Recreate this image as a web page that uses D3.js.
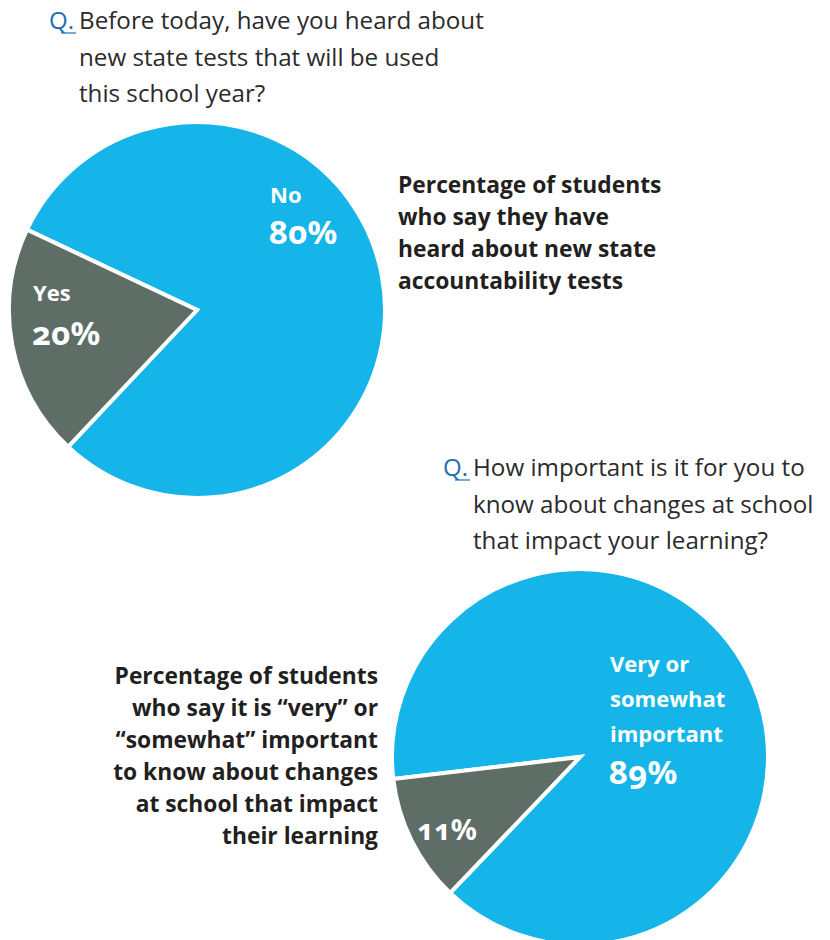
<!DOCTYPE html>
<html>
<head>
<meta charset="utf-8">
<script src="https://cdn.jsdelivr.net/npm/d3@7"></script>
<style>
  html, body { margin: 0; padding: 0; background: #fff; }
  svg { display: block; }
  .q { font-family: "Open Sans", sans-serif; font-size: 24.2px; fill: #2b2b2b; }
  .qmark { font-family: "Open Sans", sans-serif; font-size: 24px; fill: #1f6fb2; }
  .note { font-family: "Open Sans", sans-serif; font-weight: 700; font-size: 22.8px; fill: #231f20; }
  .slice-label { fill: #fff; font-weight: 700; }
  .slice-name { font-family: "Open Sans", sans-serif; font-size: 22px; }
  .slice-pct { font-family: "Noto Sans", sans-serif; font-size: 33px; font-variant-numeric: oldstyle-nums; }
</style>
</head>
<body>
<script>
// Survey answers for the two questions
const q1Categories = ["No", "Yes"];
const q1Values = [80, 20];
const q1Question = ["Before today, have you heard about", "new state tests that will be used", "this school year?"];
const q1Note = ["Percentage of students", "who say they have", "heard about new state", "accountability tests"];

const q2Categories = ["Very or somewhat important", "Not important"];
const q2Values = [89, 11];
const q2Question = ["How important is it for you to", "know about changes at school", "that impact your learning?"];
const q2Note = ["Percentage of students", "who say it is \u201cvery\u201d or", "\u201csomewhat\u201d important", "to know about changes", "at school that impact", "their learning"];

const colors = ["#15b5e9", "#5e6d66"];

const W = 830, H = 940;
const svg = d3.select("body").append("svg").attr("width", W).attr("height", H);

const deg = Math.PI / 180;

function drawPie(cx, cy, r, values, startDeg) {
  const pie = d3.pie().sort(null)
    .startAngle(startDeg * deg)
    .endAngle(startDeg * deg + 2 * Math.PI);
  const arc = d3.arc().innerRadius(0).outerRadius(r);
  const color = d3.scaleOrdinal().domain(d3.range(values.length)).range(colors);
  const g = svg.append("g").attr("transform", `translate(${cx},${cy})`);
  g.selectAll("path")
    .data(pie(values))
    .join("path")
    .attr("d", arc)
    .attr("fill", (d, i) => color(i))
    .attr("stroke", "#fff")
    .attr("stroke-width", 4)
    .attr("stroke-linejoin", "miter");
  return g;
}

function drawQuestion(x, y, lines) {
  svg.append("text").attr("class", "qmark").attr("x", x).attr("y", y).text("Q.");
  svg.append("line")
    .attr("x1", x + 12).attr("x2", x + 27)
    .attr("y1", y + 4).attr("y2", y + 4)
    .attr("stroke", "#1f6fb2").attr("stroke-width", 1.2);
  const t = svg.append("text").attr("class", "q");
  lines.forEach((l, i) => t.append("tspan").attr("x", x + 30).attr("y", y + i * 36.5).text(l));
}

function drawNote(x, y, lines, anchor) {
  const t = svg.append("text").attr("class", "note").attr("text-anchor", anchor);
  lines.forEach((l, i) => t.append("tspan").attr("x", x).attr("y", y + i * 32).text(l));
}

// White label block for a slice: optional name lines, then the percentage
function sliceLabel(x, y, nameLines, value, gap, pctSize) {
  const t = svg.append("text").attr("class", "slice-label");
  nameLines.forEach((l, i) => t.append("tspan").attr("class", "slice-name")
    .attr("x", x).attr("y", y + i * 35).text(l));
  const py = nameLines.length ? y + (nameLines.length - 1) * 35 + gap : y;
  const p = t.append("tspan").attr("class", "slice-pct").attr("x", x - 1).attr("y", py).text(value + "%");
  if (pctSize) p.style("font-size", pctSize + "px");
}

// First question
drawQuestion(49, 29, q1Question);
drawPie(197, 310, 188, q1Values, -64.7);
drawNote(398, 193, q1Note, "start");

sliceLabel(270, 203, [q1Categories[0]], q1Values[0], 41);
sliceLabel(33, 301, [q1Categories[1]], q1Values[1], 44);

// Second question
drawQuestion(443, 476, q2Question);
drawPie(580, 757, 188, q2Values, -96.7);
drawNote(378, 684, q2Note, "end");

sliceLabel(610, 672, ["Very or", "somewhat", "important"], q2Values[0], 42);
sliceLabel(418, 840, [], q2Values[1], 0, 29);
</script>
</body>
</html>
